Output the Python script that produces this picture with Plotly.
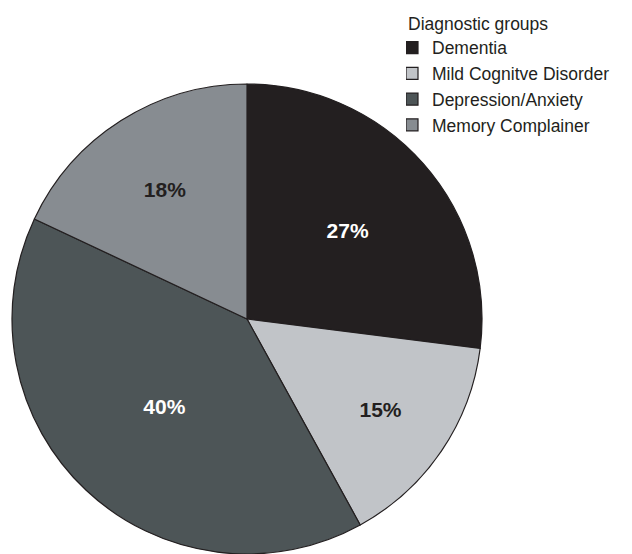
import plotly.graph_objects as go

groups = ["Dementia", "Mild Cognitve Disorder", "Depression/Anxiety", "Memory Complainer"]
shares = [27, 15, 40, 18]
colors = ["#231f20", "#c1c4c8", "#4d5557", "#878c91"]
text_colors = ["#ffffff", "#231f20", "#ffffff", "#231f20"]

W, H = 632, 554
cx, cy, r = 247, 319, 235

fig = go.Figure(go.Pie(
    labels=groups,
    values=shares,
    sort=False,
    direction="clockwise",
    rotation=0,
    marker=dict(colors=colors, line=dict(color="#231f20", width=1.2)),
    texttemplate="%{value}%",
    textposition="inside",
    insidetextorientation="horizontal",
    insidetextfont=dict(color=text_colors, size=21, family="Liberation Sans, Arial", weight="bold"),
    hoverinfo="label+percent",
    domain=dict(x=[(cx - r) / W, (cx + r) / W], y=[max(0, (H - cy - r) / H), (H - cy + r) / H]),
))

fig.update_layout(
    width=W, height=H,
    margin=dict(l=0, r=0, t=0, b=0),
    paper_bgcolor="white",
    plot_bgcolor="white",
    font=dict(family="Liberation Sans, Arial", color="#231f20", size=17.5),
    legend=dict(
        title=dict(text="Diagnostic groups", font=dict(size=17.5)),
        x=406 / W, xanchor="left",
        y=1 - 7 / H, yanchor="top",
        indentation=-14,
        font=dict(size=17.5),
        bgcolor="rgba(0,0,0,0)",
        traceorder="normal",
    ),
    showlegend=True,
)

fig.write_html("out.html")
